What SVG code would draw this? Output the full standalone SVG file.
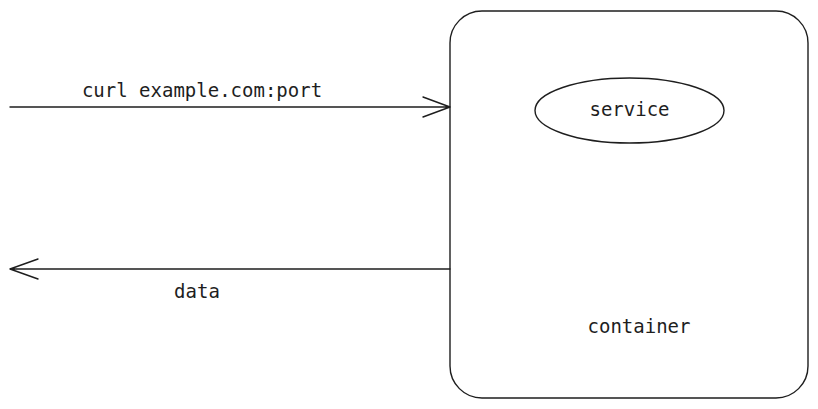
<svg xmlns="http://www.w3.org/2000/svg" width="818" height="409" viewBox="0 0 818 409">
<style>
.s{fill:none;stroke:#1e1e1e;stroke-width:1.4;stroke-linecap:round;stroke-linejoin:round}
.t{font-family:"DejaVu Sans Mono","Liberation Mono",monospace;font-size:19px;fill:#1e1e1e;text-anchor:middle}
</style>
<rect width="818" height="409" fill="#ffffff"/>
<g id="container">
<rect class="s" x="450" y="11" width="358" height="387" rx="32" ry="32"/>
<text class="t" x="639" y="333">container</text>
</g>
<g id="service">
<ellipse class="s" cx="629.5" cy="110.5" rx="94.5" ry="32.5"/>
<text class="t" x="629.5" y="116">service</text>
</g>
<g id="connectors">
<path class="s" d="M10 107 L450 107 M423 97 L450 107 L423 117"/>
<text class="t" x="202" y="97">curl example.com:port</text>
<path class="s" d="M450 269 L10 269 M38 259 L10 269 L38 279"/>
<text class="t" x="197" y="298">data</text>
</g>
</svg>
